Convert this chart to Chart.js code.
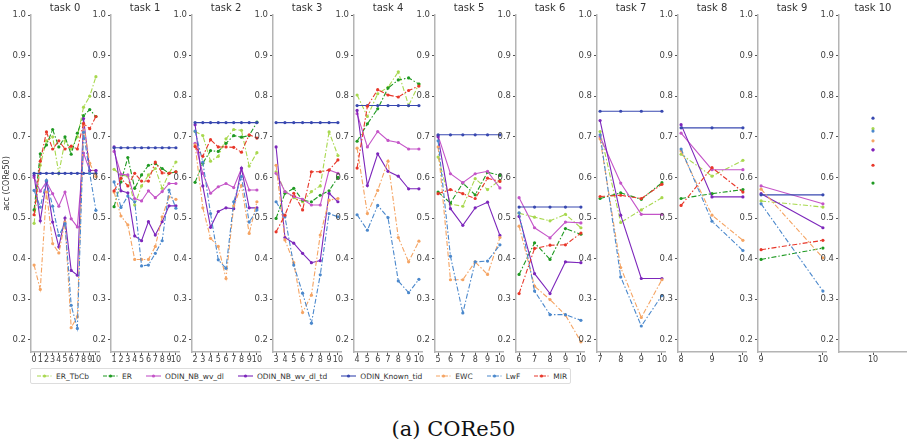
<!DOCTYPE html>
<html>
<head>
<meta charset="utf-8">
<script src="https://cdn.jsdelivr.net/npm/chart.js@4.4.1/dist/chart.umd.min.js"></script>
<style>
  body { margin: 0; background: #fff; width: 907px; height: 445px; position: relative; overflow: hidden; font-family: "DejaVu Sans", sans-serif; }
  canvas.panel { position: absolute; top: 0; }
  #leyenda { position: absolute; left: 30px; top: 368px; width: 541px; height: 16px; box-sizing: border-box;
             border: 1px solid #ddd; border-radius: 2px; display: flex; align-items: center; padding-left: 6px;
             font-size: 7.5px; color: #333; gap: 14px; }
  #leyenda .item { display: flex; align-items: center; gap: 4px; white-space: nowrap; }
  #caption { position: absolute; left: 0; width: 907px; top: 419px; text-align: center;
             font-family: "DejaVu Serif", serif; font-size: 21px; line-height: 1; color: #111; }
</style>
</head>
<body>
<div id="leyenda"></div>
<div id="caption">(a) CORe50</div>
<script>
// valores: una lista por tarea (tarea t -> evaluada en t..10)
const tareas = [0, 1, 2, 3, 4, 5, 6, 7, 8, 9, 10];
const yTicks = [0.2, 0.3, 0.4, 0.5, 0.6, 0.7, 0.8, 0.9, 1.0];

const erTbCb = [
  [0.487, 0.63, 0.69, 0.70, 0.61, 0.69, 0.67, 0.70, 0.773, 0.80, 0.848],
  [0.62, 0.606, 0.603, 0.532, 0.579, 0.606, 0.622, 0.573, 0.61, 0.638],
  [0.713, 0.703, 0.64, 0.652, 0.695, 0.718, 0.716, 0.628, 0.661],
  [0.614, 0.565, 0.55, 0.54, 0.565, 0.579, 0.712, 0.654],
  [0.803, 0.75, 0.806, 0.822, 0.86, 0.777, 0.83],
  [0.65, 0.534, 0.529, 0.597, 0.57, 0.593],
  [0.512, 0.502, 0.493, 0.509, 0.476],
  [0.713, 0.489, 0.52, 0.55],
  [0.657, 0.603, 0.642],
  [0.542, 0.527],
  [0.72]
];
const er = [
  [0.52, 0.658, 0.68, 0.718, 0.675, 0.70, 0.657, 0.709, 0.752, 0.767, 0.75],
  [0.528, 0.589, 0.649, 0.573, 0.606, 0.63, 0.634, 0.622, 0.61, 0.614],
  [0.588, 0.635, 0.666, 0.664, 0.684, 0.703, 0.699, 0.703, 0.736],
  [0.499, 0.561, 0.573, 0.544, 0.54, 0.556, 0.567, 0.6],
  [0.689, 0.732, 0.769, 0.82, 0.84, 0.845, 0.83],
  [0.564, 0.537, 0.586, 0.557, 0.613, 0.605],
  [0.361, 0.439, 0.398, 0.474, 0.46],
  [0.548, 0.562, 0.546, 0.587],
  [0.548, 0.56, 0.57],
  [0.398, 0.426],
  [0.586]
];
const odinNbWvDl = [
  [0.60, 0.566, 0.589, 0.56, 0.529, 0.564, 0.498, 0.478, 0.66, 0.617, 0.617],
  [0.664, 0.608, 0.606, 0.548, 0.542, 0.567, 0.55, 0.565, 0.585, 0.585],
  [0.684, 0.61, 0.561, 0.577, 0.585, 0.575, 0.622, 0.569, 0.569],
  [0.61, 0.565, 0.553, 0.546, 0.532, 0.532, 0.618, 0.61],
  [0.757, 0.675, 0.713, 0.691, 0.686, 0.67, 0.67],
  [0.703, 0.609, 0.587, 0.609, 0.615, 0.574],
  [0.55, 0.476, 0.451, 0.49, 0.488],
  [0.70, 0.586, 0.509, 0.509],
  [0.709, 0.619, 0.619],
  [0.579, 0.535],
  [0.668]
];
const odinNbWvDlTd = [
  [0.605, 0.493, 0.59, 0.49, 0.429, 0.50, 0.371, 0.359, 0.745, 0.617, 0.617],
  [0.675, 0.567, 0.562, 0.456, 0.444, 0.491, 0.458, 0.491, 0.53, 0.53],
  [0.73, 0.579, 0.477, 0.516, 0.525, 0.523, 0.623, 0.525, 0.525],
  [0.675, 0.452, 0.438, 0.413, 0.39, 0.395, 0.561, 0.54],
  [0.765, 0.58, 0.658, 0.615, 0.603, 0.572, 0.572],
  [0.70, 0.523, 0.482, 0.525, 0.539, 0.457],
  [0.504, 0.363, 0.314, 0.392, 0.39],
  [0.74, 0.507, 0.351, 0.351],
  [0.73, 0.552, 0.552],
  [0.56, 0.476],
  [0.668]
];
const odinKnownTid = [
  [0.61, 0.61, 0.61, 0.61, 0.61, 0.61, 0.61, 0.61, 0.61, 0.61, 0.61],
  [0.673, 0.673, 0.673, 0.673, 0.673, 0.673, 0.673, 0.673, 0.673, 0.673],
  [0.735, 0.735, 0.735, 0.735, 0.735, 0.735, 0.735, 0.735, 0.735],
  [0.735, 0.735, 0.735, 0.735, 0.735, 0.735, 0.735, 0.735],
  [0.777, 0.777, 0.777, 0.777, 0.777, 0.777, 0.777],
  [0.705, 0.705, 0.705, 0.705, 0.705, 0.705],
  [0.527, 0.527, 0.527, 0.527, 0.527],
  [0.763, 0.763, 0.763, 0.763],
  [0.722, 0.722, 0.722],
  [0.557, 0.557],
  [0.746]
];
const ewc = [
  [0.384, 0.324, 0.564, 0.437, 0.414, 0.49, 0.23, 0.257, 0.73, 0.635, 0.602],
  [0.564, 0.505, 0.483, 0.398, 0.398, 0.398, 0.43, 0.503, 0.552, 0.546],
  [0.68, 0.525, 0.45, 0.43, 0.351, 0.53, 0.58, 0.462, 0.54],
  [0.63, 0.446, 0.39, 0.267, 0.31, 0.458, 0.544, 0.548],
  [0.672, 0.511, 0.568, 0.64, 0.452, 0.392, 0.443],
  [0.675, 0.348, 0.348, 0.392, 0.361, 0.452],
  [0.48, 0.332, 0.299, 0.261, 0.195],
  [0.695, 0.378, 0.255, 0.348],
  [0.665, 0.507, 0.445],
  [0.571, 0.402],
  [0.69]
];
const lwf = [
  [0.568, 0.527, 0.593, 0.529, 0.457, 0.486, 0.285, 0.228, 0.711, 0.61, 0.519],
  [0.589, 0.526, 0.554, 0.54, 0.382, 0.384, 0.413, 0.444, 0.569, 0.524],
  [0.714, 0.638, 0.511, 0.397, 0.376, 0.54, 0.602, 0.49, 0.52],
  [0.54, 0.503, 0.384, 0.315, 0.241, 0.36, 0.511, 0.503],
  [0.508, 0.47, 0.531, 0.501, 0.345, 0.316, 0.349],
  [0.69, 0.406, 0.266, 0.392, 0.394, 0.434],
  [0.513, 0.32, 0.262, 0.262, 0.248],
  [0.705, 0.355, 0.234, 0.309],
  [0.67, 0.492, 0.42],
  [0.535, 0.32],
  [0.714]
];
const mir = [
  [0.508, 0.64, 0.712, 0.67, 0.69, 0.67, 0.677, 0.67, 0.733, 0.72, 0.75],
  [0.567, 0.598, 0.579, 0.61, 0.591, 0.591, 0.638, 0.611, 0.61, 0.614],
  [0.676, 0.652, 0.693, 0.675, 0.675, 0.674, 0.662, 0.705, 0.697],
  [0.466, 0.507, 0.561, 0.52, 0.614, 0.614, 0.618, 0.643],
  [0.623, 0.775, 0.816, 0.803, 0.798, 0.814, 0.825],
  [0.56, 0.57, 0.56, 0.548, 0.598, 0.59],
  [0.314, 0.425, 0.433, 0.434, 0.463],
  [0.553, 0.556, 0.548, 0.583],
  [0.531, 0.624, 0.564],
  [0.422, 0.445],
  [0.63]
];

const guionPunto = [5, 2, 1.5, 2];
const series = [
  { nombre: 'ER_TbCb', valores: erTbCb, color: '#a8d84e', dash: guionPunto },
  { nombre: 'ER', valores: er, color: '#1f9a22', dash: guionPunto },
  { nombre: 'ODIN_NB_wv_dl', valores: odinNbWvDl, color: '#c454c8', dash: [] },
  { nombre: 'ODIN_NB_wv_dl_td', valores: odinNbWvDlTd, color: '#7c26bb', dash: [] },
  { nombre: 'ODIN_Known_tid', valores: odinKnownTid, color: '#3848b0', dash: [] },
  { nombre: 'EWC', valores: ewc, color: '#f5a463', dash: guionPunto },
  { nombre: 'LwF', valores: lwf, color: '#4b88cc', dash: guionPunto },
  { nombre: 'MIR', valores: mir, color: '#e8372a', dash: guionPunto }
];

Chart.defaults.font.family = '"DejaVu Sans", sans-serif';

const anchoPlot = 68;
const extraDerecha = 12;

function crearPanel(t) {
  const anchoY = t === 0 ? 30 : 26;
  const spine = Math.round(30.6 + 80.87 * t);

  const cv = document.createElement('canvas');
  cv.className = 'panel';
  cv.width = anchoY + anchoPlot + extraDerecha;
  cv.height = 370;
  cv.style.left = (spine - anchoY) + 'px';
  document.body.appendChild(cv);

  const xs = [];
  for (let k = t; k <= 10; k++) xs.push(k);
  const rango = 10 - t;
  const margen = rango === 0 ? 0.5 : rango * 0.05;

  const datasets = series.map((s, i) => ({
    label: s.nombre,
    data: s.valores[t].map((v, j) => ({ x: t + j, y: v })),
    borderColor: s.color,
    backgroundColor: s.color,
    borderWidth: 1.1,
    borderDash: s.dash,
    pointRadius: 1.6,
    pointBorderWidth: 0,
    pointHoverRadius: 0,
    order: 8 - i
  }));

  new Chart(cv.getContext('2d'), {
    type: 'line',
    data: { datasets: datasets },
    options: {
      responsive: false,
      animation: false,
      layout: { padding: { left: 0, right: extraDerecha, top: 0, bottom: 0 } },
      plugins: {
        legend: { display: false },
        tooltip: { enabled: false },
        title: {
          display: true,
          text: 'task ' + t,
          fullSize: false,
          color: '#333',
          font: { size: 10, weight: 'normal' },
          padding: { top: 2, bottom: 1 }
        }
      },
      scales: {
        x: {
          type: 'linear',
          min: t - margen,
          max: 10 + margen,
          afterBuildTicks: s => { s.ticks = xs.map(v => ({ value: v })); },
          afterFit: s => { s.height = 18; },
          ticks: { autoSkip: false, maxRotation: 0, padding: 0, color: '#444', font: { size: 8 },
                   callback: v => String(v) },
          grid: { drawOnChartArea: false, tickLength: 3, color: '#555' },
          border: { color: '#b4b4b4', width: 1.5 }
        },
        y: {
          type: 'linear',
          min: 0.17,
          max: 1.0,
          afterBuildTicks: s => { s.ticks = yTicks.map(v => ({ value: v })); },
          afterFit: s => { s.width = anchoY; },
          ticks: { padding: 2, color: '#444', font: { size: 8.5 }, callback: v => v.toFixed(1) },
          grid: { drawOnChartArea: false, tickLength: 3, color: '#555' },
          border: { color: '#b4b4b4', width: 1.5 },
          title: {
            display: t === 0,
            text: 'acc (CORe50)',
            color: '#333',
            font: { size: 8 },
            padding: { top: 1, bottom: 0 }
          }
        }
      }
    }
  });
}

tareas.forEach(t => crearPanel(t));

// leyenda
const leyenda = document.getElementById('leyenda');
series.forEach(s => {
  const item = document.createElement('div');
  item.className = 'item';
  const dash = s.dash.length ? 'stroke-dasharray="4 1.5 1 1.5"' : '';
  item.innerHTML =
    '<svg width="15" height="6"><line x1="0" y1="3" x2="15" y2="3" stroke="' + s.color + '" stroke-width="1.1" ' + dash +
    '/><circle cx="7.5" cy="3" r="1.6" fill="' + s.color + '"/></svg><span>' + s.nombre + '</span>';
  leyenda.appendChild(item);
});
</script>
</body>
</html>
